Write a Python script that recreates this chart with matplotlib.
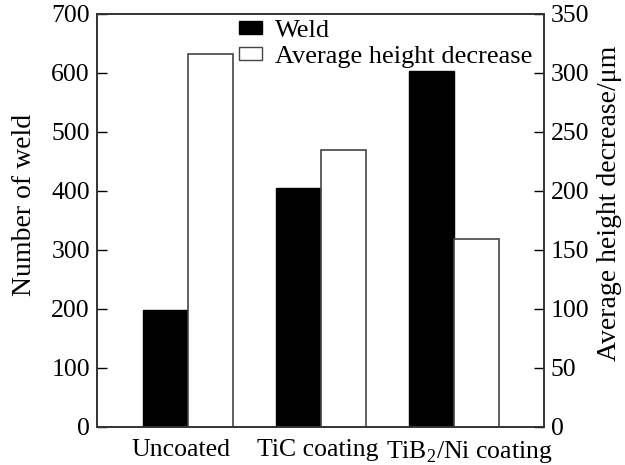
import numpy as np
import matplotlib
matplotlib.use('Agg')
import matplotlib.pyplot as plt
from matplotlib.patches import Patch

plt.rcParams['font.family'] = ['Liberation Serif', 'DejaVu Serif']
plt.rcParams['mathtext.fontset'] = 'custom'
plt.rcParams['mathtext.rm'] = 'Liberation Serif'

# data
categories = ['Uncoated', 'TiC coating', 'TiB$_2$/Ni coating']
weld = [198, 405, 604]
height_decrease = [316, 235, 159]

fig = plt.figure(figsize=(6.25, 4.65), dpi=100)
ax = fig.add_axes([0.155, 0.0825, 0.715, 0.8875])
ax2 = ax.twinx()

x = np.arange(len(categories))
w = 0.338
ax.bar(x - w / 2, weld, w, color='black', edgecolor='black', linewidth=1)
ax2.bar(x + w / 2, height_decrease, w, color='white', edgecolor='#444444', linewidth=1.2)

ax.set_xlim(-0.684, 2.677)
ax.set_ylim(0, 700)
ax2.set_ylim(0, 350)
ax.set_yticks(range(0, 701, 100))
ax2.set_yticks(range(0, 351, 50))

ax.set_xticks([-0.05, 0.98, 2.12])
ax.set_xticklabels(categories)
ax.tick_params(axis='x', length=0, pad=9, labelsize=18.5)
ax.tick_params(axis='y', direction='in', length=7, width=1, labelsize=18.5, pad=5)
ax2.tick_params(axis='y', direction='in', length=7, width=1, labelsize=18.5, pad=5)

ax.set_ylabel('Number of weld', fontsize=20)
ax2.set_ylabel('Average height decrease/\u03bcm', fontsize=20)
ax.yaxis.set_label_coords(-0.134, 0.537)
ax2.yaxis.set_label_coords(1.12, 0.54)

for a in (ax, ax2):
    for s in a.spines.values():
        s.set_linewidth(1.2)
        s.set_color('#333333')

handles = [Patch(facecolor='black', edgecolor='black', label='Weld'),
           Patch(facecolor='white', edgecolor='#444444', label='Average height decrease')]
ax2.legend(handles=handles, loc='upper right', frameon=False, fontsize=19,
           handlelength=0.87, handleheight=0.4, handletextpad=0.5,
           borderaxespad=0.1, labelspacing=0.15, bbox_to_anchor=(1.005, 1.017))

fig.savefig('out.png', dpi=100)
